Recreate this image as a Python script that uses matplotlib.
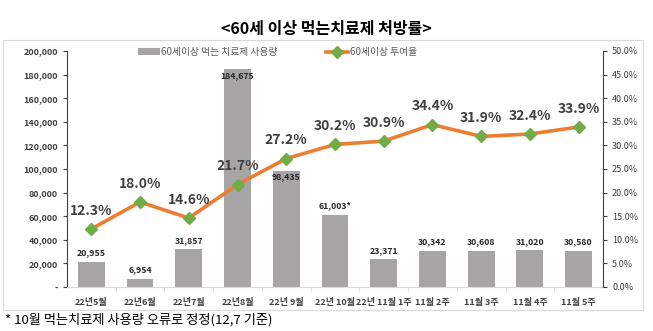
import matplotlib
matplotlib.use("Agg")
import matplotlib.pyplot as plt
import numpy as np
from matplotlib.ticker import FuncFormatter, MultipleLocator

plt.rcParams['font.family'] = ['Noto Sans CJK KR', 'DejaVu Sans']

# Données
categories = ["22년5월", "22년6월", "22년7월", "22년8월", "22년 9월", "22년 10월",
              "22년 11월 1주", "11월 2주", "11월 3주", "11월 4주", "11월 5주"]
usage = [20955, 6954, 31857, 184675, 98435, 61003, 23371, 30342, 30608, 31020, 30580]
usage_labels = ["20,955", "6,954", "31,857", "184,675", "98,435", "61,003*",
                "23,371", "30,342", "30,608", "31,020", "30,580"]
rate = [12.3, 18.0, 14.6, 21.7, 27.2, 30.2, 30.9, 34.4, 31.9, 32.4, 33.9]

bar_color = "#a6a4a4"
line_color = "#ed7d31"
marker_color = "#70ad47"

fig = plt.figure(figsize=(6.53, 3.31), dpi=100)
ax = fig.add_axes([0.1026, 0.133, 0.8208, 0.713])

x = np.arange(len(categories))
ax.bar(x, usage, width=0.55, color=bar_color, label="60세이상 먹는 치료제 사용량")
ax.set_ylim(0, 200000)
ax.set_xlim(-0.5, len(categories) - 0.5)
ax.yaxis.set_major_locator(MultipleLocator(20000))
ax.yaxis.set_major_formatter(FuncFormatter(lambda v, p: "-" if v == 0 else f"{int(v):,}"))
ax.tick_params(axis="y", labelsize=6.5, length=3, colors="#404040")
ax.set_xticks(x)
ax.set_xticklabels(categories, fontsize=6.5, fontweight="bold", color="#404040")
ax.tick_params(axis="x", length=0, pad=8)
ax.set_xticks(x[:-1] + 0.5, minor=True)
ax.tick_params(axis="x", which="minor", length=3, color="#d9d9d9")
for lab in ax.get_yticklabels():
    lab.set_fontweight("bold")

for s in ["top", "right"]:
    ax.spines[s].set_visible(False)
ax.spines["left"].set_color("#404040")
ax.spines["bottom"].set_color("#d9d9d9")

# étiquettes des barres (les deux plus hautes sont dans la barre)
for xi, v, t in zip(x, usage, usage_labels):
    if v > 90000:
        ax.text(xi, v - 1500, t, ha="center", va="top", fontsize=6.3,
                fontweight="bold", color="#262626")
    else:
        ax.text(xi, v + 4000, t, ha="center", va="bottom", fontsize=6.3,
                fontweight="bold", color="#262626")

ax2 = ax.twinx()
ax2.plot(x, rate, color=line_color, lw=2.6, marker="D", markersize=6.5,
         markerfacecolor=marker_color, markeredgecolor=marker_color,
         label="60세이상 투여율")
ax2.set_ylim(0, 50)
ax2.yaxis.set_major_locator(MultipleLocator(5))
ax2.yaxis.set_major_formatter(FuncFormatter(lambda v, p: f"{v:.1f}%"))
ax2.tick_params(axis="y", labelsize=6.5, length=3, colors="#404040")
for s in ["top", "left", "bottom"]:
    ax2.spines[s].set_visible(False)
ax2.spines["right"].set_color("#404040")

for xi, r in zip(x, rate):
    ax2.text(xi, r + 2.4, f"{r:.1f}%", ha="center", va="bottom", fontsize=10,
             color="#404040", fontweight="bold")

h1, l1 = ax.get_legend_handles_labels()
h2, l2 = ax2.get_legend_handles_labels()
fig.legend(h1 + h2, l1 + l2, loc="center", bbox_to_anchor=(0.425, 0.843), ncol=2,
           frameon=False, fontsize=7, handlelength=2.2, columnspacing=5,
           labelcolor="#595959", handletextpad=0.2)

fig.text(0.5, 0.912, "<60세 이상 먹는치료제 처방률>", ha="center", va="center",
         fontsize=11.5, fontweight="bold")
fig.text(0.008, 0.035, "* 10월 먹는치료제 사용량 오류로 정정(12,7 기준)", ha="left",
         va="center", fontsize=9.5)

# cadre
frame = plt.Rectangle((0.005, 0.063), 0.98, 0.815, transform=fig.transFigure,
                      fill=False, edgecolor="#d9d9d9", lw=0.8)
fig.patches.append(frame)

fig.savefig("out.png", dpi=100)
